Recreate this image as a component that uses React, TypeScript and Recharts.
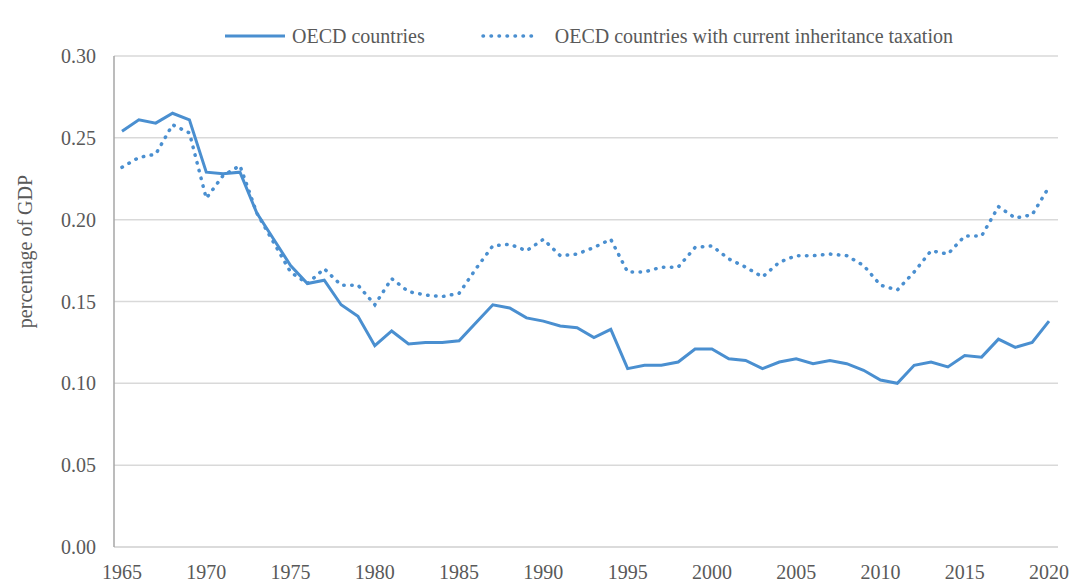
import { LineChart, Line, XAxis, YAxis, CartesianGrid, Legend, Label } from 'recharts';

const years = [
    1965, 1966, 1967, 1968, 1969, 1970, 1971, 1972, 1973, 1974,
    1975, 1976, 1977, 1978, 1979, 1980, 1981, 1982, 1983, 1984,
    1985, 1986, 1987, 1988, 1989, 1990, 1991, 1992, 1993, 1994,
    1995, 1996, 1997, 1998, 1999, 2000, 2001, 2002, 2003, 2004,
    2005, 2006, 2007, 2008, 2009, 2010, 2011, 2012, 2013, 2014,
    2015, 2016, 2017, 2018, 2019, 2020,
];

const oecd = [
    0.254, 0.261, 0.259, 0.265, 0.261, 0.229, 0.228, 0.229, 0.204, 0.188,
    0.172, 0.161, 0.163, 0.148, 0.141, 0.123, 0.132, 0.124, 0.125, 0.125,
    0.126, 0.137, 0.148, 0.146, 0.140, 0.138, 0.135, 0.134, 0.128, 0.133,
    0.109, 0.111, 0.111, 0.113, 0.121, 0.121, 0.115, 0.114, 0.109, 0.113,
    0.115, 0.112, 0.114, 0.112, 0.108, 0.102, 0.100, 0.111, 0.113, 0.110,
    0.117, 0.116, 0.127, 0.122, 0.125, 0.138,
];

const oecdInheritance = [
    0.232, 0.238, 0.240, 0.258, 0.253, 0.213, 0.227, 0.233, 0.204, 0.186,
    0.168, 0.161, 0.170, 0.160, 0.160, 0.148, 0.164, 0.156, 0.154, 0.153,
    0.155, 0.170, 0.184, 0.185, 0.181, 0.188, 0.178, 0.179, 0.183, 0.188,
    0.168, 0.168, 0.171, 0.171, 0.183, 0.184, 0.176, 0.171, 0.165, 0.174,
    0.178, 0.178, 0.179, 0.178, 0.172, 0.160, 0.157, 0.168, 0.181, 0.179,
    0.190, 0.190, 0.208, 0.201, 0.203, 0.220,
];

const yTicks = [0, 0.05, 0.1, 0.15, 0.2, 0.25, 0.3];

const data = years.map((y, i) => ({
    year: y,
    oecd: oecd[i],
    inherit: oecdInheritance[i],
}));

const BLUE = '#4a8fd0';
const TEXT = '#595959';
const FONT = '"Liberation Serif", "Times New Roman", serif';

function ChartLegend() {
    return (
        <div style={{ height: 40, display: 'flex', alignItems: 'center', paddingLeft: 225, fontFamily: FONT, fontSize: 20, color: TEXT }}>
            <svg width={60} height={6}>
                <line x1={0} y1={3} x2={60} y2={3} stroke={BLUE} strokeWidth={3} />
            </svg>
            <span style={{ marginLeft: 7 }}>OECD countries</span>
            <svg width={56} height={6} style={{ marginLeft: 56 }}>
                <line x1={2} y1={3} x2={54} y2={3} stroke={BLUE} strokeWidth={3.5} strokeDasharray="0.5 7.5" strokeLinecap="round" />
            </svg>
            <span style={{ marginLeft: 18 }}>OECD countries with current inheritance taxation</span>
        </div>
    );
}

function YTitle({ viewBox }: any) {
    const x = viewBox.x + 25;
    const y = viewBox.y + viewBox.height / 2 - 50;
    return (
        <text x={x} y={y} transform={`rotate(-90, ${x}, ${y})`} textAnchor="middle" dominantBaseline="central" fill={TEXT} fontFamily={FONT} fontSize={20}>
            percentage of GDP
        </text>
    );
}

export default function App() {
    return (
        <div style={{ position: 'absolute', left: 0, top: 0, background: '#fff' }}>
            <LineChart width={1074} height={583} data={data} margin={{ top: 16, right: 16, bottom: 0, left: 0 }}>
                <CartesianGrid vertical={false} stroke="#d9d9d9" strokeWidth={1.5} />
                <XAxis
                    dataKey="year"
                    interval={4}
                    height={36}
                    padding={{ left: 8, right: 9 }}
                    tickLine={false}
                    tickSize={6}
                    tickMargin={12}
                    stroke="#d9d9d9"
                    strokeWidth={1.5}
                    tick={{ fill: TEXT, fontFamily: FONT, fontSize: 20 }}
                />
                <YAxis
                    domain={[0, 0.3]}
                    ticks={yTicks}
                    width={114}
                    tickLine={false}
                    tickSize={6}
                    tickMargin={12}
                    stroke="#a6a6a6"
                    strokeWidth={1.5}
                    tickFormatter={(v: number) => v.toFixed(2)}
                    tick={{ fill: TEXT, fontFamily: FONT, fontSize: 20 }}
                >
                    <Label content={YTitle} />
                </YAxis>
                <Legend verticalAlign="top" content={() => <ChartLegend />} />
                <Line type="linear" dataKey="oecd" name="OECD countries" stroke={BLUE} strokeWidth={3} dot={false} activeDot={false} isAnimationActive={false} />
                <Line type="linear" dataKey="inherit" name="OECD countries with current inheritance taxation" stroke={BLUE} strokeWidth={3.5} strokeDasharray="0.5 7.5" strokeLinecap="round" dot={false} activeDot={false} isAnimationActive={false} />
            </LineChart>
        </div>
    );
}
